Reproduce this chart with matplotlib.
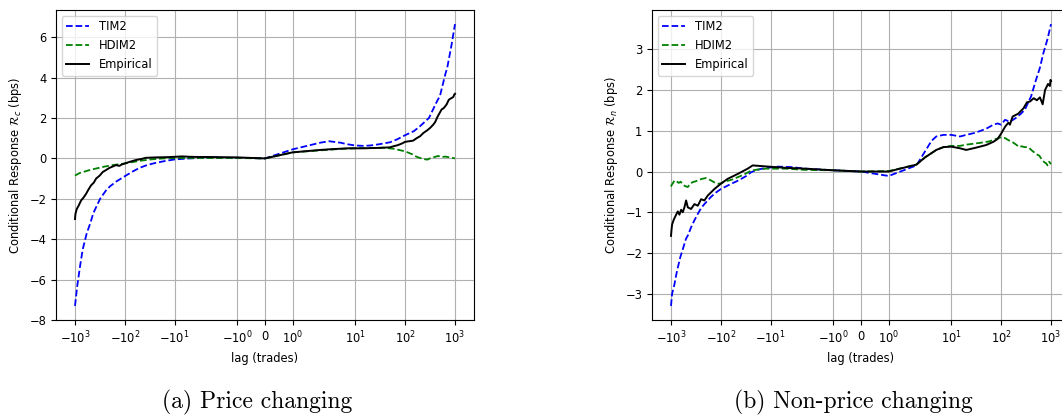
import matplotlib
matplotlib.use("Agg")
import matplotlib.pyplot as plt

# ---------------- data: (a) price changing ----------------
tim2_c_lag = [-1000, -900, -788, -700, -581, -500, -427, -314, -238, -198, -150, -100, -70, -51, -35, -24,
              -15, -10, -5, -3, -2, -1, 0, 1, 2, 3, 5, 7, 10, 15, 20, 30, 50, 70, 100, 150, 200, 300,
              430, 500, 640, 700, 850, 1000]
tim2_c_val = [-7.3, -6.3, -5.3, -4.5, -3.7, -3.25, -2.7, -2.0, -1.58, -1.38, -1.15, -0.88, -0.65, -0.47, -0.32, -0.22,
              -0.12, -0.05, 0.0, 0.02, 0.03, 0.03, 0.0, 0.45, 0.78, 0.85, 0.78, 0.7, 0.64, 0.62, 0.64, 0.7, 0.8, 0.95,
              1.15, 1.35, 1.6, 2.0, 2.8, 3.1, 4.17, 4.5, 5.6, 6.65]

hdim2_c_lag = [-1000, -920, -800, -697, -550, -378, -250, -175, -100, -70, -44, -30, -17, -10, -5, -2, -1, 0,
               1, 2, 3, 5, 10, 20, 36, 58, 100, 140, 170, 230, 280, 314, 400, 460, 550, 640, 789, 900, 1000]
hdim2_c_val = [-0.85, -0.8, -0.72, -0.68, -0.6, -0.5, -0.4, -0.33, -0.25, -0.18, -0.1, -0.05, 0.0, 0.02, 0.02, 0.02, 0.02, 0.0,
               0.3, 0.4, 0.43, 0.47, 0.5, 0.52, 0.53, 0.48, 0.35, 0.2, 0.08, -0.03, -0.06, 0.0, 0.08, 0.12, 0.07, 0.09, 0.05, 0.02, 0.0]

emp_c_lag = [-1000, -980, -920, -850, -754, -680, -598, -540, -475, -420, -378, -320, -277, -240, -204, -175,
             -150, -129, -115, -100, -80, -60, -45, -38, -30, -24, -15, -10, -7, -5, -3, -2, -1, 0,
             1, 2, 3, 5, 7, 10, 15, 20, 30, 36, 50, 58, 70, 85, 100, 120, 145, 170, 200, 230, 280, 314,
             366, 400, 450, 538, 600, 678, 750, 800, 870, 930, 960, 1000]
emp_c_val = [-3.0, -2.75, -2.5, -2.35, -2.08, -1.95, -1.75, -1.55, -1.33, -1.2, -1.0, -0.85, -0.67, -0.58, -0.47, -0.4,
             -0.33, -0.37, -0.3, -0.25, -0.17, -0.08, -0.02, 0.03, 0.04, 0.05, 0.06, 0.08, 0.1, 0.08, 0.07, 0.07, 0.05, 0.0,
             0.3, 0.42, 0.45, 0.48, 0.5, 0.5, 0.5, 0.51, 0.52, 0.53, 0.55, 0.6, 0.65, 0.73, 0.82, 0.85, 0.88, 1.0, 1.1, 1.25, 1.4, 1.5,
             1.67, 1.8, 2.08, 2.42, 2.5, 2.67, 2.9, 2.95, 3.0, 3.05, 3.15, 3.2]

# ---------------- data: (b) non-price changing ----------------
tim2_n_lag = [-1000, -950, -853, -790, -731, -650, -581, -500, -450, -396, -340, -290, -250, -214, -180, -157,
              -130, -100, -80, -62, -50, -39, -30, -25, -20, -15, -10, -7, -4, -2, -1, 0,
              1, 2, 3, 4, 5, 7, 10, 15, 20, 30, 50, 70, 85, 100, 120, 150, 200, 250, 300, 400, 500, 600,
              700, 850, 1000]
tim2_n_val = [-3.3, -3.0, -2.77, -2.55, -2.36, -2.1, -1.91, -1.65, -1.55, -1.37, -1.2, -1.04, -0.9, -0.8, -0.7, -0.62,
              -0.53, -0.43, -0.37, -0.3, -0.25, -0.18, -0.1, -0.02, 0.03, 0.07, 0.1, 0.12, 0.11, 0.07, 0.03, 0.0,
              -0.11, 0.15, 0.5, 0.75, 0.86, 0.9, 0.9, 0.86, 0.9, 0.95, 1.05, 1.15, 1.18, 1.15, 1.27, 1.22, 1.32, 1.42, 1.52, 1.85, 2.25, 2.55,
              2.9, 3.25, 3.62]

hdim2_n_lag = [-1000, -960, -920, -850, -789, -700, -640, -581, -520, -460, -410, -366, -320, -290, -240, -198,
               -170, -157, -130, -115, -100, -85, -60, -46, -35, -25, -18, -13, -5, -2, -1, 0,
               1, 2, 3, 4, 5, 7, 10, 15, 20, 36, 58, 79, 100, 120, 140, 170, 200, 230, 260, 290, 330, 366,
               400, 460, 520, 581, 650, 731, 800, 853, 920, 1000]
hdim2_n_val = [-0.37, -0.32, -0.29, -0.22, -0.23, -0.28, -0.25, -0.32, -0.36, -0.38, -0.3, -0.26, -0.24, -0.22, -0.18, -0.16,
               -0.2, -0.22, -0.28, -0.3, -0.29, -0.25, -0.2, -0.14, -0.08, 0.02, 0.05, 0.07, 0.07, 0.04, 0.03, 0.0,
               0.01, 0.17, 0.35, 0.45, 0.53, 0.6, 0.63, 0.63, 0.66, 0.7, 0.74, 0.8, 0.84, 0.82, 0.77, 0.72, 0.66, 0.6, 0.62, 0.6, 0.6, 0.58,
               0.53, 0.47, 0.42, 0.39, 0.3, 0.23, 0.2, 0.15, 0.24, 0.18]

emp_n_lag = [-1000, -980, -950, -879, -789, -731, -678, -627, -581, -538, -498, -460, -396, -339, -290, -249,
             -214, -183, -157, -135, -100, -73, -46, -29, -23, -18, -11, -5, -2, -1, 0,
             1, 2, 3, 4, 5, 7, 10, 15, 20, 30, 50, 70, 85, 100, 120, 140, 150, 170, 220, 280, 330, 380,
             450, 520, 600, 680, 760, 870, 950, 980, 1000]
emp_n_val = [-1.58, -1.45, -1.3, -1.18, -1.06, -0.98, -1.06, -0.94, -1.0, -0.88, -0.71, -0.88, -0.92, -0.8, -0.84, -0.68,
             -0.71, -0.59, -0.51, -0.43, -0.3, -0.18, -0.06, 0.07, 0.15, 0.14, 0.12, 0.09, 0.07, 0.03, 0.0,
             0.0, 0.17, 0.35, 0.45, 0.53, 0.6, 0.61, 0.57, 0.53, 0.58, 0.65, 0.73, 0.8, 0.93, 1.1, 1.2, 1.15, 1.35, 1.42, 1.55, 1.7, 1.72,
             1.8, 1.75, 1.82, 1.65, 2.0, 2.15, 2.1, 2.25, 2.22]

xticks = [-1000, -100, -10, -1, 0, 1, 10, 100, 1000]
xticklabels = [r'$-10^{3}$', r'$-10^{2}$', r'$-10^{1}$', r'$-10^{0}$', r'$0$',
               r'$10^{0}$', r'$10^{1}$', r'$10^{2}$', r'$10^{3}$']
legend_labels = ['TIM2', 'HDIM2', 'Empirical']
ylabels = [r'Conditional Response $\mathcal{R}_c$ (bps)', r'Conditional Response $\mathcal{R}_n$ (bps)']
captions = ['(a) Price changing', '(b) Non-price changing']
yticks_list = [[-8, -6, -4, -2, 0, 2, 4, 6], [-3, -2, -1, 0, 1, 2, 3]]

plt.rcParams['font.family'] = ['DejaVu Sans']
plt.rcParams['mathtext.fontset'] = 'dejavusans'
FS = 8.3

fig = plt.figure(figsize=(10.62, 4.16), dpi=100)
ax1 = fig.add_axes([56 / 1062, 1 - 320 / 416, 418 / 1062, 310 / 416])
ax2 = fig.add_axes([652 / 1062, 1 - 320 / 416, 418 / 1062, 310 / 416])

panels = [
    (ax1, (tim2_c_lag, tim2_c_val), (hdim2_c_lag, hdim2_c_val), (emp_c_lag, emp_c_val)),
    (ax2, (tim2_n_lag, tim2_n_val), (hdim2_n_lag, hdim2_n_val), (emp_n_lag, emp_n_val)),
]

for i, (ax, tim, hdim, emp) in enumerate(panels):
    ax.plot(tim[0], tim[1], color='b', ls='--', lw=1.3, label=legend_labels[0])
    ax.plot(hdim[0], hdim[1], color='g', ls='--', lw=1.3, label=legend_labels[1])
    ax.plot(emp[0], emp[1], color='k', ls='-', lw=1.4, label=legend_labels[2])
    ax.set_xscale('symlog', linthresh=2, linscale=1)
    ax.set_xticks(xticks)
    ax.set_xticklabels(xticklabels)
    ax.xaxis.set_minor_locator(matplotlib.ticker.NullLocator())
    ax.set_yticks(yticks_list[i])
    ax.tick_params(labelsize=FS)
    ax.grid(True, color='#b0b0b0', lw=0.8)
    ax.set_xlabel('lag (trades)', fontsize=FS)
    ax.set_ylabel(ylabels[i], fontsize=FS)
    ax.legend(loc='upper left', fontsize=FS)

fig.text(257.5 / 1062, 1 - 408 / 416, captions[0], family='cmr10', fontsize=17,
         ha='center', va='baseline')
fig.text(853.3 / 1062, 1 - 408 / 416, captions[1], family='cmr10', fontsize=17,
         ha='center', va='baseline')

fig.savefig('out.png', dpi=100)
